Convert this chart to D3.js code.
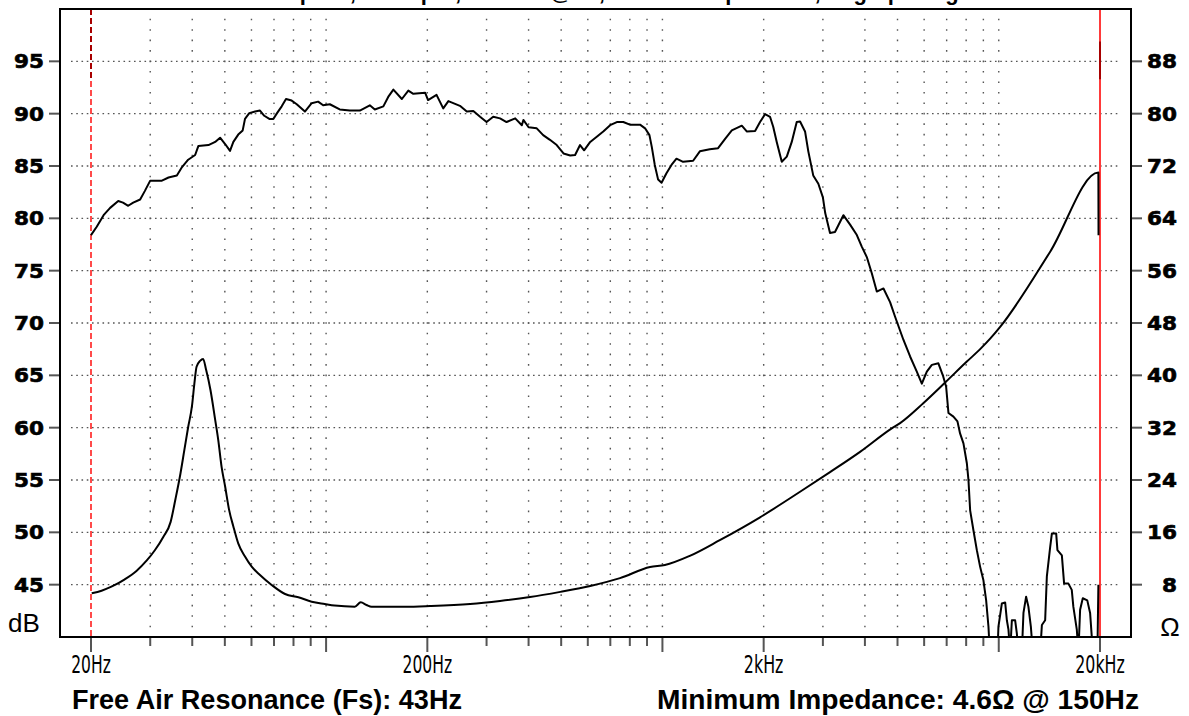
<!DOCTYPE html>
<html><head><meta charset="utf-8">
<script src="https://cdn.jsdelivr.net/npm/d3@7"></script>
<style>html,body{margin:0;padding:0;background:#fff;overflow:hidden}</style>
</head><body><svg id="c" width="1189" height="716"></svg>
<script>
// ---- data ----
const splFreq = [20.0,20.8,21.8,22.8,24.1,24.9,25.8,26.7,28.0,28.9,30.0,32.5,34.0,36.0,37.3,38.9,40.8,41.7,44.7,46.8,48.4,50.1,51.8,53.0,54.8,56.5,57.4,59.1,61.5,63.6,65.5,67.8,69.7,71.3,73.8,76.0,79.0,81.8,86.5,90.6,94.7,98,102.6,109.8,117.6,126,134.9,139.6,148,153,158.5,168,175.6,181.7,197,201,213,223,231,250,262,274,287,300,314,329,344,365,382,386,400,423,442,463,485,508,532,550,569,585,610,638,667,699,732,765,800,858,888,915,930,949,971,994,1028,1064,1101,1152,1234,1292,1383,1464,1536,1608,1722,1781,1886,1951,2019,2089,2135,2187,2264,2343,2424,2508,2566,2655,2715,2808,2908,3000,3048,3150,3259,3452,3614,3785,3915,4052,4193,4339,4542,4752,4918,5205,5450,5706,5906,6111,6325,6614,6820,6976,7087,7333,7537,7673,7853,8038,8127,8221,8408,8607,8804,9000,9173,9319,9429,9900,9979,10214,10448,10571,10687,10812,10939,11188,11318,11444,11713,11843,12060,12250,12458,12630,13278,13436,13739,13900,14221,14388,14815,14944,15404,15643,16110,16484,16664,17064,17253,17454,17776,18332,18690,19050,19650,19780];
const splDb = [78.4,79.2,80.3,81.0,81.65,81.5,81.2,81.5,81.8,82.6,83.6,83.6,83.9,84.1,84.9,85.6,86.05,86.9,87.0,87.3,87.7,87.1,86.45,87.3,88.0,88.4,89.5,90.05,90.2,90.3,89.8,89.5,89.5,90.0,90.7,91.4,91.25,90.9,90.2,91.0,91.15,90.8,90.9,90.4,90.3,90.3,90.8,90.4,90.7,91.6,92.3,91.4,92.2,91.9,92.0,91.3,91.8,90.5,91.2,90.75,90.2,90.25,89.7,89.2,89.7,89.55,89.2,89.55,88.9,89.4,88.7,88.6,87.95,87.5,87.0,86.2,86.0,86.05,87.0,86.5,87.3,87.8,88.3,88.9,89.2,89.2,88.95,88.95,88.6,87.95,86.8,85.1,83.7,83.4,84.3,85.1,85.7,85.4,85.5,86.4,86.6,86.7,87.6,88.4,88.85,88.3,88.35,89.2,89.95,89.7,88.75,87.3,85.4,85.9,87.3,89.2,89.25,88.3,86.4,84.1,83.3,82.0,80.5,78.6,78.7,80.3,79.4,78.4,77.3,76.3,74.75,73.0,73.3,72.0,70.6,68.4,66.8,65.35,64.2,65.35,66.0,66.15,65.0,63.9,61.4,61.05,60.6,59.45,58.5,56.6,55.0,52.1,50.2,48.3,46.7,45.45,43.5,41.0,38,38,41.0,43.2,43.3,41.6,40.7,38.5,41.6,41.6,40.35,38.5,38.5,42.3,43.85,42.9,41.0,38.5,38.5,41.15,41.6,45.8,48.6,49.9,49.9,48.3,47.8,45.1,45.1,44.5,42.9,40.7,38.5,42.6,43.7,43.5,42.3,38.5,38.5,45.0];
const impFreq = [20.1,21.5,23.0,25.2,27.3,29.3,31.0,32.8,34.5,35.6,36.9,37.9,38.9,39.9,40.6,41.2,42.2,43.1,44.0,45.3,46.8,47.8,48.9,50.1,51.5,53.0,54.8,57.4,60.1,63.6,68.9,75.5,82.7,90.6,99.1,106,121.7,126.8,131.9,136.5,171.7,203.7,268,329,404,497,610,748,919,1017,1206,1481,1951,2566,3150,3869,4807,5090,5953,6928,8038,8804,9429,10096,14221,19780,19800];
const impOhm = [6.68,7.08,7.69,8.82,10.1,11.7,13.3,15.3,17.6,20.9,25.0,28.6,32.1,35.2,38.8,41.3,42.2,42.5,40.8,37.8,33.2,30.1,26.0,23.0,19.4,16.9,14.3,12.3,10.75,9.48,7.95,6.57,6.07,5.4,5.04,4.8,4.64,5.3,4.9,4.64,4.64,4.74,5.04,5.5,6.1,6.9,7.8,9.0,10.7,11.0,12.4,14.8,18.3,22.2,25.2,28.3,31.9,32.7,35.7,38.9,42.1,44.0,45.6,47.4,58.9,71.0,61.4];
const dbTicks = [45,50,55,60,65,70,75,80,85,90,95];
const ohmTicks = [8,16,24,32,40,48,56,64,72,80,88];
const freqLabelValues = [20,200,2000,20000];
const freqLabelTexts = ["20Hz","200Hz","2kHz","20kHz"];
const decadeFreqs = [100,1000,10000];
const minorFreqs = [30,40,50,60,70,80,90,300,400,500,600,700,800,900,3000,4000,5000,6000,7000,8000,9000];
const gridFreqs = [30,40,50,60,70,80,90,100,200,300,400,500,600,700,800,900,1000,2000,3000,4000,5000,6000,7000,8000,9000,10000];
const titleText = "Half Space, 1W Input, 1 Meter @ 0°, Free Air Impedance, Log Spacing";
const fsText = "Free Air Resonance (Fs): 43Hz";
const zminText = "Minimum Impedance: 4.6Ω @ 150Hz";

// ---- layout ----
const L=60, R=1131, T=9, B=637;
const svg = d3.select("#c");
const x = d3.scaleLog().domain([20,20000]).range([91,1100]);
const yDb = d3.scaleLinear().domain([40,100]).range([B,T]);
const yOhm = d3.scaleLinear().domain([0,96]).range([B,T]);
const bold = "'DejaVu Sans', Verdana, sans-serif";
const arial = "'Liberation Sans', Arial, Helvetica, sans-serif";
const narrow = "'Liberation Sans Narrow', 'DejaVu Sans Condensed', 'Liberation Sans', sans-serif";

// title (cut at top edge, as in the reference)
svg.append("text").attr("x",598).attr("y",-0.2).attr("text-anchor","middle")
  .attr("font-family",arial).attr("font-weight","bold").attr("font-size",22).text(titleText);

// grid
const g = svg.append("g");
g.selectAll("line.h").data(dbTicks).join("line").attr("class","h")
  .attr("x1",71).attr("x2",1121).attr("y1",d=>yDb(d)).attr("y2",d=>yDb(d))
  .attr("stroke","#555").attr("stroke-width",1.4).attr("stroke-dasharray","1.6 3.65");
const dbStep = yDb(40)-yDb(41);
g.selectAll("line.v").data(gridFreqs).join("line").attr("class","v")
  .attr("x1",d=>x(d)).attr("x2",d=>x(d))
  .attr("y1",yDb(99)-0.8).attr("y2",yDb(41)+0.8)
  .attr("stroke","#555").attr("stroke-width",1.4)
  .attr("stroke-dasharray",`1.6 ${dbStep-1.6}`);

// red marker lines
svg.append("line").attr("x1",x(20)).attr("x2",x(20)).attr("y1",T).attr("y2",B)
  .attr("stroke","#ff4a4a").attr("stroke-width",2).attr("stroke-dasharray","6 3");
svg.append("line").attr("x1",x(20)).attr("x2",x(20)).attr("y1",yDb(100)).attr("y2",yDb(93.2))
  .attr("stroke","#a80000").attr("stroke-width",2).attr("stroke-dasharray","6 3");
svg.append("line").attr("x1",x(20000)).attr("x2",x(20000)).attr("y1",T).attr("y2",B)
  .attr("stroke","#ff3a3a").attr("stroke-width",2);
svg.append("line").attr("x1",x(20000)).attr("x2",x(20000)).attr("y1",yDb(96.9)).attr("y2",yDb(93.3))
  .attr("stroke","#a80000").attr("stroke-width",2);

// curves
svg.append("clipPath").attr("id","clip").append("rect").attr("x",L).attr("y",T).attr("width",R-L).attr("height",B-T);
const cg = svg.append("g").attr("clip-path","url(#clip)");
const splLine = d3.line().x((d,i)=>x(splFreq[i])).y((d,i)=>yDb(splDb[i]));
const impLine = d3.line().curve(d3.curveMonotoneX).x((d,i)=>x(impFreq[i])).y((d,i)=>yOhm(impOhm[i]));
cg.append("path").attr("d",impLine(impFreq)).attr("fill","none").attr("stroke","#000").attr("stroke-width",2).attr("stroke-linejoin","round");
cg.append("path").attr("d",splLine(splFreq)).attr("fill","none").attr("stroke","#000").attr("stroke-width",2).attr("stroke-linejoin","round");

// frame
svg.append("rect").attr("x",L).attr("y",T).attr("width",R-L).attr("height",B-T)
  .attr("fill","none").attr("stroke","#000").attr("stroke-width",2);

// left ticks & labels
svg.selectAll("line.lt").data(dbTicks).join("line").attr("class","lt")
  .attr("x1",49).attr("x2",L-1).attr("y1",d=>yDb(d)).attr("y2",d=>yDb(d)).attr("stroke","#555").attr("stroke-width",2);
svg.selectAll("text.ll").data(dbTicks).join("text").attr("class","ll")
  .attr("x",44).attr("y",d=>yDb(d)+7).attr("text-anchor","end")
  .attr("font-family",bold).attr("font-weight","bold").attr("font-size",19)
  .attr("stroke","#000").attr("stroke-width",0.6)
  .attr("textLength",d=>String(d).length*15).attr("lengthAdjust","spacingAndGlyphs").text(d=>d);
// right ticks & labels
svg.selectAll("line.rt").data(ohmTicks).join("line").attr("class","rt")
  .attr("x1",R+1).attr("x2",1142).attr("y1",d=>yOhm(d)).attr("y2",d=>yOhm(d)).attr("stroke","#555").attr("stroke-width",2);
svg.selectAll("text.rl").data(ohmTicks).join("text").attr("class","rl")
  .attr("x",1177).attr("y",d=>yOhm(d)+7).attr("text-anchor","end")
  .attr("font-family",bold).attr("font-weight","bold").attr("font-size",19)
  .attr("stroke","#000").attr("stroke-width",0.6)
  .attr("textLength",d=>String(d).length*15).attr("lengthAdjust","spacingAndGlyphs").text(d=>d);

// bottom ticks
svg.selectAll("line.mt").data(minorFreqs).join("line").attr("class","mt")
  .attr("x1",d=>x(d)).attr("x2",d=>x(d)).attr("y1",B+1).attr("y2",646).attr("stroke","#555").attr("stroke-width",2);
svg.selectAll("line.dt").data(decadeFreqs.concat(freqLabelValues)).join("line").attr("class","dt")
  .attr("x1",d=>x(d)).attr("x2",d=>x(d)).attr("y1",B+1).attr("y2",652).attr("stroke","#555").attr("stroke-width",2);
svg.selectAll("text.fl").data(freqLabelValues).join("text").attr("class","fl")
  .attr("x",d=>x(d)).attr("y",673).attr("text-anchor","middle")
  .attr("font-family",narrow).attr("font-size",25)
  .attr("textLength",(d,i)=>freqLabelTexts[i].length*9.9).attr("lengthAdjust","spacingAndGlyphs")
  .text((d,i)=>freqLabelTexts[i]);

// unit labels
svg.append("text").attr("x",8).attr("y",632).attr("font-family",arial).attr("font-size",26).text("dB");
svg.append("text").attr("x",1170).attr("y",636).attr("text-anchor","middle").attr("font-family",arial).attr("font-size",26).text("Ω");

// bottom notes
svg.append("text").attr("x",72).attr("y",709).attr("font-family",arial).attr("font-weight","bold").attr("font-size",27)
  .attr("textLength",390).attr("lengthAdjust","spacingAndGlyphs").text(fsText);
svg.append("text").attr("x",657).attr("y",709).attr("font-family",arial).attr("font-weight","bold").attr("font-size",27)
  .attr("textLength",482).attr("lengthAdjust","spacingAndGlyphs").text(zminText);
</script></body></html>
